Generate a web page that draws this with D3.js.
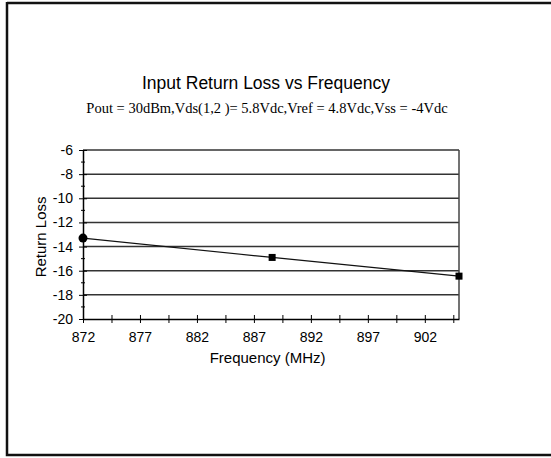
<!DOCTYPE html>
<html>
<head>
<meta charset="utf-8">
<script src="https://cdn.jsdelivr.net/npm/d3@7"></script>
<style>
body { margin:0; background:#fff; }
svg { display:block; }
.tick text { font-family: "Liberation Sans", Arial, sans-serif; font-size:14px; fill:#000; }
</style>
</head>
<body>
<div id="chart"></div>
<script>
var width = 551;
var height = 458;

var freqs = [872, 888.6, 905];
var returnLoss = [-13.3, -14.9, -16.45];
var yTickValues = [-6, -8, -10, -12, -14, -16, -18, -20];
var xTickLabels = [872, 877, 882, 887, 892, 897, 902];

var margin = {left:83, top:150, right:92, bottom:139};

var svg = d3.select("#chart")
            .append("svg")
            .attr("width", width)
            .attr("height", height);

// outer frame
svg.append("path")
   .attr("d", "M7,3 L551,3 M7,2 L7,455 L551,455")
   .attr("fill", "none")
   .attr("stroke", "#111")
   .attr("stroke-width", 2.5);

var xScale = d3.scaleLinear()
               .domain([872, 905])
               .range([margin.left, width - margin.right]);
var yScale = d3.scaleLinear()
               .domain([-20, -6])
               .range([height - margin.bottom, margin.top]);

// grid lines
svg.selectAll(".grid")
   .data(yTickValues.filter(function(d){ return d != -20; }))
   .enter().append("line")
   .attr("class", "grid")
   .attr("x1", xScale(872))
   .attr("x2", xScale(905))
   .attr("y1", function(d){ return yScale(d); })
   .attr("y2", function(d){ return yScale(d); })
   .attr("stroke", "#333")
   .attr("stroke-width", 1.5);

// right border
svg.append("line")
   .attr("x1", xScale(905)).attr("x2", xScale(905))
   .attr("y1", yScale(-6)).attr("y2", yScale(-20))
   .attr("stroke", "#444").attr("stroke-width", 1.5);

// minor ticks y
var minorY = d3.range(-19, -6, 2);
svg.selectAll(".minY")
   .data(minorY)
   .enter().append("line")
   .attr("x1", xScale(872) - 2).attr("x2", xScale(872) + 2)
   .attr("y1", function(d){ return yScale(d); })
   .attr("y2", function(d){ return yScale(d); })
   .attr("stroke", "#000");

var yAxis = d3.axisLeft(yScale)
              .tickValues(yTickValues)
              .tickFormat(function(d){ return String(d); })
              .tickSizeInner(4)
              .tickSizeOuter(0)
              .tickPadding(6);
var gy = svg.append("g")
            .attr("transform", "translate(" + xScale(872) + ",0)")
            .call(yAxis);
gy.selectAll(".tick line").attr("x2", 4).attr("x1", -4);
gy.select(".domain").attr("stroke-width", 1.5);

var xTicks = d3.range(872, 905, 2.5);
var xAxis = d3.axisBottom(xScale)
              .tickValues(xTicks)
              .tickFormat(function(d){ return xTickLabels.indexOf(d) >= 0 ? d : ""; })
              .tickSizeInner(4)
              .tickSizeOuter(0)
              .tickPadding(9);
var gx = svg.append("g")
            .attr("transform", "translate(0," + yScale(-20) + ")")
            .call(xAxis);
gx.selectAll(".tick line").attr("y1", -4).attr("y2", 4);
gx.select(".domain").attr("stroke-width", 1.5);

// data line
var line = d3.line()
             .x(function(d){ return xScale(d[0]); })
             .y(function(d){ return yScale(d[1]); });
var pts = d3.zip(freqs, returnLoss);
svg.append("path")
   .datum(pts)
   .attr("d", line)
   .attr("fill", "none")
   .attr("stroke", "#111")
   .attr("stroke-width", 1.2);

svg.append("circle")
   .attr("cx", xScale(pts[0][0]))
   .attr("cy", yScale(pts[0][1]))
   .attr("r", 4.5)
   .attr("fill", "#000");
svg.selectAll(".sq")
   .data(pts.slice(1))
   .enter().append("rect")
   .attr("x", function(d){ return xScale(d[0]) - 3.5; })
   .attr("y", function(d){ return yScale(d[1]) - 3.5; })
   .attr("width", 7).attr("height", 7)
   .attr("fill", "#000");

// titles
svg.append("text")
   .attr("x", 266).attr("y", 89)
   .attr("text-anchor", "middle")
   .style("font-family", "Liberation Sans, Arial, sans-serif")
   .style("font-size", "17.5px")
   .text("Input Return Loss vs Frequency");
svg.append("text")
   .attr("x", 267).attr("y", 113)
   .attr("text-anchor", "middle")
   .style("font-family", "Liberation Serif, Times New Roman, serif")
   .style("font-size", "14.5px")
   .text("Pout = 30dBm,Vds(1,2 )= 5.8Vdc,Vref = 4.8Vdc,Vss = -4Vdc");
svg.append("text")
   .attr("x", xScale(888.2)).attr("y", 363)
   .attr("text-anchor", "middle")
   .style("font-family", "Liberation Sans, Arial, sans-serif")
   .style("font-size", "15px")
   .text("Frequency (MHz)");
svg.append("text")
   .attr("transform", "translate(46," + yScale(-13.2) + ") rotate(-90)")
   .attr("text-anchor", "middle")
   .style("font-family", "Liberation Sans, Arial, sans-serif")
   .style("font-size", "15px")
   .text("Return Loss");
</script>
</body>
</html>
